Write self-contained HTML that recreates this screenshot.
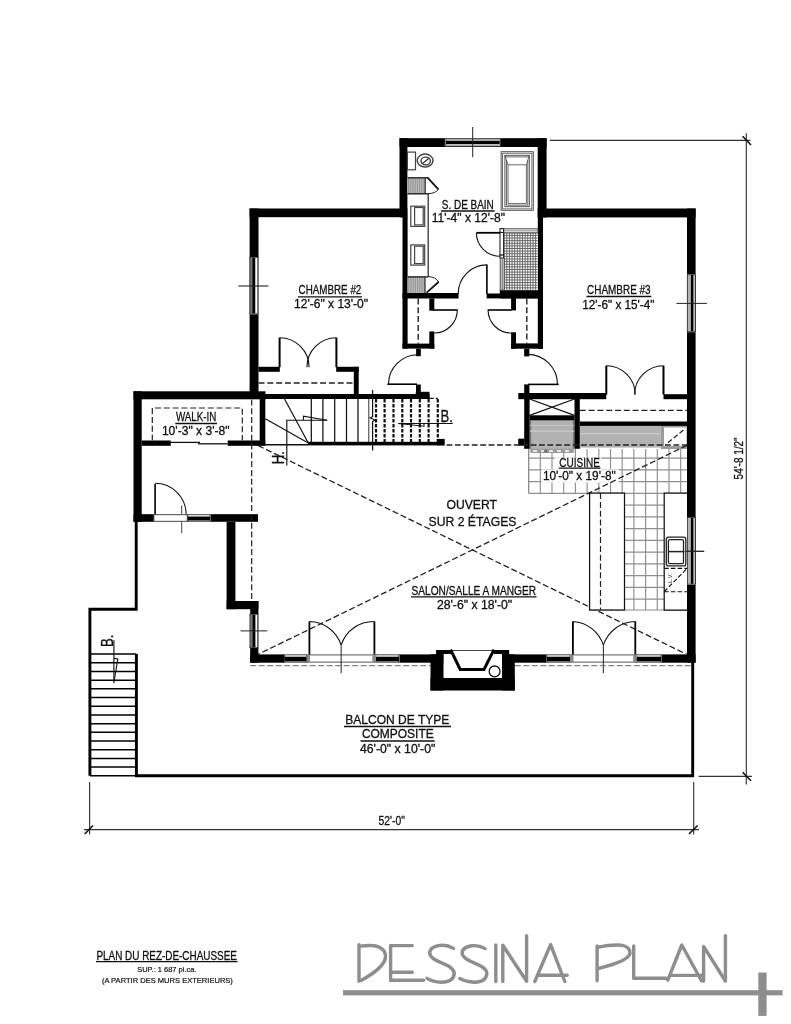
<!DOCTYPE html>
<html><head><meta charset="utf-8"><title>Plan du rez-de-chaussee</title>
<style>
html,body{margin:0;padding:0;background:#fff;}
body{width:791px;height:1024px;overflow:hidden;font-family:"Liberation Sans",sans-serif;}
svg{display:block;filter:grayscale(1) blur(0.4px);}
svg text{font-family:"Liberation Sans",sans-serif;}
</style></head><body>
<svg width="791" height="1024" viewBox="0 0 791 1024">
<rect x="0" y="0" width="791" height="1024" fill="#fff"/>
<line x1="528.60" y1="449.00" x2="528.60" y2="493.10" stroke="#8e8e8e" stroke-width="1.15" />
<line x1="540.30" y1="449.00" x2="540.30" y2="493.10" stroke="#8e8e8e" stroke-width="1.15" />
<line x1="552.00" y1="449.00" x2="552.00" y2="493.10" stroke="#8e8e8e" stroke-width="1.15" />
<line x1="563.70" y1="449.00" x2="563.70" y2="493.10" stroke="#8e8e8e" stroke-width="1.15" />
<line x1="575.40" y1="449.00" x2="575.40" y2="493.10" stroke="#8e8e8e" stroke-width="1.15" />
<line x1="587.10" y1="449.00" x2="587.10" y2="493.10" stroke="#8e8e8e" stroke-width="1.15" />
<line x1="598.80" y1="449.00" x2="598.80" y2="493.10" stroke="#8e8e8e" stroke-width="1.15" />
<line x1="610.50" y1="449.00" x2="610.50" y2="493.10" stroke="#8e8e8e" stroke-width="1.15" />
<line x1="622.20" y1="449.00" x2="622.20" y2="493.10" stroke="#8e8e8e" stroke-width="1.15" />
<line x1="633.90" y1="449.00" x2="633.90" y2="493.10" stroke="#8e8e8e" stroke-width="1.15" />
<line x1="645.60" y1="449.00" x2="645.60" y2="493.10" stroke="#8e8e8e" stroke-width="1.15" />
<line x1="657.30" y1="449.00" x2="657.30" y2="493.10" stroke="#8e8e8e" stroke-width="1.15" />
<line x1="669.00" y1="449.00" x2="669.00" y2="493.10" stroke="#8e8e8e" stroke-width="1.15" />
<line x1="680.70" y1="449.00" x2="680.70" y2="493.10" stroke="#8e8e8e" stroke-width="1.15" />
<line x1="528.60" y1="458.10" x2="687.00" y2="458.10" stroke="#8e8e8e" stroke-width="1.15" />
<line x1="528.60" y1="469.85" x2="687.00" y2="469.85" stroke="#8e8e8e" stroke-width="1.15" />
<line x1="528.60" y1="481.60" x2="687.00" y2="481.60" stroke="#8e8e8e" stroke-width="1.15" />
<line x1="528.60" y1="493.35" x2="687.00" y2="493.35" stroke="#8e8e8e" stroke-width="1.15" />
<line x1="528.60" y1="449.00" x2="528.60" y2="493.10" stroke="#8e8e8e" stroke-width="1.15" />
<line x1="633.90" y1="493.10" x2="633.90" y2="610.00" stroke="#8e8e8e" stroke-width="1.15" />
<line x1="645.60" y1="493.10" x2="645.60" y2="610.00" stroke="#8e8e8e" stroke-width="1.15" />
<line x1="657.30" y1="493.10" x2="657.30" y2="610.00" stroke="#8e8e8e" stroke-width="1.15" />
<line x1="624.50" y1="505.10" x2="664.20" y2="505.10" stroke="#8e8e8e" stroke-width="1.15" />
<line x1="624.50" y1="516.85" x2="664.20" y2="516.85" stroke="#8e8e8e" stroke-width="1.15" />
<line x1="624.50" y1="528.60" x2="664.20" y2="528.60" stroke="#8e8e8e" stroke-width="1.15" />
<line x1="624.50" y1="540.35" x2="664.20" y2="540.35" stroke="#8e8e8e" stroke-width="1.15" />
<line x1="624.50" y1="552.10" x2="664.20" y2="552.10" stroke="#8e8e8e" stroke-width="1.15" />
<line x1="624.50" y1="563.85" x2="664.20" y2="563.85" stroke="#8e8e8e" stroke-width="1.15" />
<line x1="624.50" y1="575.60" x2="664.20" y2="575.60" stroke="#8e8e8e" stroke-width="1.15" />
<line x1="624.50" y1="587.35" x2="664.20" y2="587.35" stroke="#8e8e8e" stroke-width="1.15" />
<line x1="624.50" y1="599.10" x2="664.20" y2="599.10" stroke="#8e8e8e" stroke-width="1.15" />
<line x1="589.60" y1="610.00" x2="687.00" y2="610.00" stroke="#8e8e8e" stroke-width="1.15" />
<rect x="554.60" y="457.40" width="46.60" height="13.10" fill="#fff" />
<rect x="541.40" y="469.40" width="77.20" height="13.20" fill="#fff" />
<rect x="529.60" y="420.40" width="44.90" height="32.20" fill="#b2b2b2" />
<rect x="529.60" y="420.40" width="1.60" height="28.40" fill="#777" />
<rect x="572.90" y="420.40" width="1.60" height="28.40" fill="#777" />
<line x1="529.60" y1="431.20" x2="574.50" y2="431.20" stroke="#d0d0d0" stroke-width="1" />
<line x1="529.60" y1="425.50" x2="574.50" y2="425.50" stroke="#c6c6c6" stroke-width="0.8" />
<rect x="579.80" y="425.70" width="81.00" height="21.90" fill="#b2b2b2" />
<line x1="579.80" y1="433.80" x2="660.80" y2="433.80" stroke="#d0d0d0" stroke-width="1" />
<rect x="660.80" y="425.90" width="26.50" height="23.10" fill="#9a9a9a" />
<rect x="664.00" y="427.50" width="22.50" height="18.50" fill="#fff" />
<rect x="531.20" y="448.80" width="41.80" height="4.20" fill="#9a9a9a" />
<line x1="533.00" y1="451.00" x2="571.00" y2="451.00" stroke="#fff" stroke-width="1.3" stroke-dasharray="4 4" />
<path d="M544,452.5 L545.5,449.8 L547,452.5" stroke="#333" stroke-width="0.8" fill="none" />
<rect x="399.50" y="138.20" width="45.50" height="8.80" fill="#000" />
<rect x="500.50" y="138.20" width="46.10" height="8.80" fill="#000" />
<rect x="399.50" y="138.20" width="7.90" height="79.20" fill="#000" />
<rect x="537.70" y="138.20" width="8.90" height="79.20" fill="#000" />
<rect x="402.50" y="217.00" width="5.10" height="131.60" fill="#000" />
<rect x="537.80" y="217.00" width="5.20" height="131.70" fill="#000" />
<rect x="249.60" y="208.50" width="157.80" height="8.70" fill="#000" />
<rect x="249.60" y="208.50" width="8.90" height="48.50" fill="#000" />
<rect x="249.60" y="314.20" width="8.90" height="84.80" fill="#000" />
<rect x="537.70" y="208.50" width="157.90" height="8.90" fill="#000" />
<rect x="687.00" y="208.50" width="8.60" height="65.70" fill="#000" />
<rect x="687.00" y="332.10" width="8.60" height="185.00" fill="#000" />
<rect x="687.00" y="584.60" width="8.60" height="78.10" fill="#000" />
<rect x="250.20" y="654.40" width="34.00" height="8.30" fill="#000" />
<rect x="399.30" y="654.40" width="147.10" height="8.30" fill="#000" />
<rect x="661.50" y="654.40" width="34.10" height="8.30" fill="#000" />
<rect x="250.20" y="601.00" width="8.20" height="13.00" fill="#000" />
<rect x="250.20" y="648.00" width="8.20" height="14.70" fill="#000" />
<rect x="226.60" y="601.00" width="31.80" height="8.20" fill="#000" />
<rect x="226.60" y="521.80" width="8.80" height="87.40" fill="#000" />
<rect x="133.50" y="514.20" width="20.40" height="7.60" fill="#000" />
<rect x="210.50" y="514.20" width="47.50" height="7.60" fill="#000" />
<rect x="133.50" y="391.30" width="8.20" height="130.50" fill="#000" />
<rect x="133.50" y="391.30" width="132.00" height="8.00" fill="#000" />
<rect x="259.70" y="398.50" width="5.60" height="47.10" fill="#000" />
<rect x="141.70" y="440.50" width="29.10" height="5.30" fill="#000" />
<rect x="227.70" y="440.50" width="37.60" height="5.30" fill="#000" />
<rect x="258.50" y="366.80" width="21.30" height="5.00" fill="#000" />
<rect x="336.20" y="366.80" width="22.50" height="5.00" fill="#000" />
<rect x="353.80" y="366.80" width="4.90" height="32.20" fill="#000" />
<rect x="258.50" y="394.00" width="171.00" height="5.00" fill="#000" />
<rect x="415.80" y="391.80" width="13.70" height="7.20" fill="#000" />
<rect x="416.00" y="384.50" width="4.80" height="14.50" fill="#000" />
<rect x="402.50" y="293.00" width="56.10" height="5.50" fill="#000" />
<rect x="429.30" y="298.50" width="5.00" height="12.20" fill="#000" />
<rect x="429.30" y="331.40" width="5.00" height="17.20" fill="#000" />
<rect x="402.50" y="343.60" width="31.80" height="5.00" fill="#000" />
<rect x="416.10" y="348.60" width="4.70" height="7.60" fill="#000" />
<rect x="486.60" y="293.50" width="56.40" height="4.90" fill="#000" />
<rect x="499.80" y="290.10" width="43.20" height="8.30" fill="#000" />
<rect x="511.10" y="298.00" width="4.90" height="12.40" fill="#000" />
<rect x="511.10" y="332.30" width="4.90" height="16.40" fill="#000" />
<rect x="511.10" y="343.40" width="31.90" height="5.30" fill="#000" />
<rect x="524.20" y="348.70" width="5.10" height="7.70" fill="#000" />
<rect x="524.20" y="384.40" width="5.20" height="14.60" fill="#000" />
<rect x="518.30" y="393.00" width="88.00" height="6.20" fill="#000" />
<rect x="663.50" y="394.20" width="24.20" height="5.00" fill="#000" />
<rect x="524.20" y="393.00" width="5.40" height="55.80" fill="#000" />
<rect x="518.20" y="438.70" width="6.20" height="7.00" fill="#000" />
<rect x="529.60" y="415.30" width="44.90" height="5.10" fill="#000" />
<rect x="574.50" y="399.00" width="5.30" height="49.80" fill="#000" />
<rect x="579.80" y="421.50" width="107.20" height="4.40" fill="#000" />
<line x1="529.60" y1="399.00" x2="574.50" y2="415.30" stroke="#111" stroke-width="1.3" />
<line x1="529.60" y1="415.30" x2="574.50" y2="399.00" stroke="#111" stroke-width="1.3" />
<rect x="249.40" y="257.00" width="9.10" height="57.20" fill="#fff" />
<rect x="250.00" y="257.80" width="3.85" height="55.60" fill="#777" />
<line x1="249.80" y1="257.00" x2="249.80" y2="314.20" stroke="#222" stroke-width="0.9" />
<line x1="258.00" y1="257.00" x2="258.00" y2="314.20" stroke="#222" stroke-width="1.2" />
<line x1="249.40" y1="257.40" x2="258.50" y2="257.40" stroke="#333" stroke-width="0.9" />
<line x1="249.40" y1="313.80" x2="258.50" y2="313.80" stroke="#333" stroke-width="0.9" />
<line x1="253.85" y1="257.80" x2="253.85" y2="313.40" stroke="#000" stroke-width="2.8" />
<line x1="238.40" y1="286.00" x2="268.50" y2="286.00" stroke="#222" stroke-width="1.1" />
<rect x="687.00" y="274.20" width="8.80" height="57.90" fill="#fff" />
<rect x="687.60" y="275.00" width="4.50" height="56.30" fill="#e4e4e4" />
<line x1="689.00" y1="275.00" x2="689.00" y2="331.30" stroke="#777" stroke-width="0.9" />
<line x1="687.40" y1="274.20" x2="687.40" y2="332.10" stroke="#222" stroke-width="0.9" />
<line x1="695.30" y1="274.20" x2="695.30" y2="332.10" stroke="#222" stroke-width="1.2" />
<line x1="687.00" y1="274.60" x2="695.80" y2="274.60" stroke="#333" stroke-width="0.9" />
<line x1="687.00" y1="331.70" x2="695.80" y2="331.70" stroke="#333" stroke-width="0.9" />
<line x1="692.10" y1="275.00" x2="692.10" y2="331.30" stroke="#000" stroke-width="2.8" />
<line x1="676.40" y1="303.40" x2="706.90" y2="303.40" stroke="#222" stroke-width="1" />
<rect x="687.00" y="517.10" width="8.80" height="67.50" fill="#fff" />
<rect x="687.60" y="517.90" width="4.50" height="65.90" fill="#e4e4e4" />
<line x1="689.00" y1="517.90" x2="689.00" y2="583.80" stroke="#777" stroke-width="0.9" />
<line x1="687.40" y1="517.10" x2="687.40" y2="584.60" stroke="#222" stroke-width="0.9" />
<line x1="695.30" y1="517.10" x2="695.30" y2="584.60" stroke="#222" stroke-width="1.2" />
<line x1="687.00" y1="517.50" x2="695.80" y2="517.50" stroke="#333" stroke-width="0.9" />
<line x1="687.00" y1="584.20" x2="695.80" y2="584.20" stroke="#333" stroke-width="0.9" />
<line x1="692.10" y1="517.90" x2="692.10" y2="583.80" stroke="#000" stroke-width="2.8" />
<line x1="678.00" y1="551.30" x2="704.20" y2="551.30" stroke="#222" stroke-width="1" />
<rect x="249.60" y="614.00" width="8.80" height="34.00" fill="#fff" />
<rect x="250.20" y="614.80" width="3.80" height="32.40" fill="#777" />
<line x1="250.00" y1="614.00" x2="250.00" y2="648.00" stroke="#222" stroke-width="0.9" />
<line x1="257.90" y1="614.00" x2="257.90" y2="648.00" stroke="#222" stroke-width="1.2" />
<line x1="249.60" y1="614.40" x2="258.40" y2="614.40" stroke="#333" stroke-width="0.9" />
<line x1="249.60" y1="647.60" x2="258.40" y2="647.60" stroke="#333" stroke-width="0.9" />
<line x1="254.00" y1="614.80" x2="254.00" y2="647.20" stroke="#000" stroke-width="2.8" />
<line x1="240.50" y1="630.90" x2="267.30" y2="630.90" stroke="#222" stroke-width="1" />
<rect x="445.00" y="138.20" width="55.50" height="8.80" fill="#fff" />
<rect x="445.00" y="138.70" width="55.50" height="7.80" fill="#ddd" stroke="#333" stroke-width="1"/>
<rect x="446.20" y="140.10" width="53.10" height="5.00" fill="none" stroke="#666" stroke-width="0.7"/>
<line x1="446.00" y1="142.60" x2="499.50" y2="142.60" stroke="#000" stroke-width="3" />
<line x1="472.70" y1="127.00" x2="472.70" y2="157.20" stroke="#222" stroke-width="1" />
<rect x="284.20" y="654.40" width="22.80" height="8.30" fill="#fff" />
<line x1="284.20" y1="654.80" x2="307.00" y2="654.80" stroke="#666" stroke-width="1.2" />
<line x1="284.20" y1="662.20" x2="307.00" y2="662.20" stroke="#666" stroke-width="1.2" />
<line x1="284.60" y1="654.40" x2="284.60" y2="662.70" stroke="#444" stroke-width="1" />
<line x1="306.60" y1="654.40" x2="306.60" y2="662.70" stroke="#444" stroke-width="1" />
<rect x="284.60" y="656.70" width="22.00" height="4.70" fill="#000" />
<rect x="375.30" y="654.40" width="24.00" height="8.30" fill="#fff" />
<line x1="375.30" y1="654.80" x2="399.30" y2="654.80" stroke="#666" stroke-width="1.2" />
<line x1="375.30" y1="662.20" x2="399.30" y2="662.20" stroke="#666" stroke-width="1.2" />
<line x1="375.70" y1="654.40" x2="375.70" y2="662.70" stroke="#444" stroke-width="1" />
<line x1="398.90" y1="654.40" x2="398.90" y2="662.70" stroke="#444" stroke-width="1" />
<rect x="375.70" y="656.70" width="23.20" height="4.70" fill="#000" />
<rect x="546.40" y="654.40" width="24.10" height="8.30" fill="#fff" />
<line x1="546.40" y1="654.80" x2="570.50" y2="654.80" stroke="#666" stroke-width="1.2" />
<line x1="546.40" y1="662.20" x2="570.50" y2="662.20" stroke="#666" stroke-width="1.2" />
<line x1="546.80" y1="654.40" x2="546.80" y2="662.70" stroke="#444" stroke-width="1" />
<line x1="570.10" y1="654.40" x2="570.10" y2="662.70" stroke="#444" stroke-width="1" />
<rect x="546.80" y="656.70" width="23.30" height="4.70" fill="#000" />
<rect x="636.20" y="654.40" width="25.30" height="8.30" fill="#fff" />
<line x1="636.20" y1="654.80" x2="661.50" y2="654.80" stroke="#666" stroke-width="1.2" />
<line x1="636.20" y1="662.20" x2="661.50" y2="662.20" stroke="#666" stroke-width="1.2" />
<line x1="636.60" y1="654.40" x2="636.60" y2="662.70" stroke="#444" stroke-width="1" />
<line x1="661.10" y1="654.40" x2="661.10" y2="662.70" stroke="#444" stroke-width="1" />
<rect x="636.60" y="656.70" width="24.50" height="4.70" fill="#000" />
<rect x="187.20" y="514.20" width="23.30" height="7.60" fill="#fff" />
<line x1="187.20" y1="514.60" x2="210.50" y2="514.60" stroke="#666" stroke-width="1.2" />
<line x1="187.20" y1="521.30" x2="210.50" y2="521.30" stroke="#666" stroke-width="1.2" />
<line x1="187.60" y1="514.20" x2="187.60" y2="521.80" stroke="#444" stroke-width="1" />
<line x1="210.10" y1="514.20" x2="210.10" y2="521.80" stroke="#444" stroke-width="1" />
<rect x="187.60" y="516.50" width="22.50" height="4.00" fill="#000" />
<line x1="181.70" y1="505.40" x2="181.70" y2="533.20" stroke="#444" stroke-width="1" />
<rect x="307.00" y="654.40" width="68.30" height="8.30" fill="#fff" />
<line x1="307.00" y1="654.80" x2="375.30" y2="654.80" stroke="#777" stroke-width="1.3" />
<line x1="307.00" y1="662.20" x2="375.30" y2="662.20" stroke="#777" stroke-width="1.3" />
<rect x="306.60" y="654.40" width="3.40" height="8.30" fill="#8a8a8a" />
<rect x="372.30" y="654.40" width="3.40" height="8.30" fill="#8a8a8a" />
<line x1="309.40" y1="621.50" x2="309.40" y2="654.40" stroke="#000" stroke-width="1.8" />
<line x1="374.40" y1="621.50" x2="374.40" y2="654.40" stroke="#000" stroke-width="1.8" />
<path d="M309.40,621.50 A34,34 0 0 1 341.15,645.20" stroke="#111" stroke-width="1.1" fill="none" />
<path d="M374.40,621.50 A34,34 0 0 0 341.15,645.20" stroke="#111" stroke-width="1.1" fill="none" />
<line x1="341.15" y1="645.20" x2="341.15" y2="673.20" stroke="#222" stroke-width="1" />
<rect x="570.50" y="654.40" width="65.70" height="8.30" fill="#fff" />
<line x1="570.50" y1="654.80" x2="636.20" y2="654.80" stroke="#777" stroke-width="1.3" />
<line x1="570.50" y1="662.20" x2="636.20" y2="662.20" stroke="#777" stroke-width="1.3" />
<rect x="570.10" y="654.40" width="3.40" height="8.30" fill="#8a8a8a" />
<rect x="633.20" y="654.40" width="3.40" height="8.30" fill="#8a8a8a" />
<line x1="572.90" y1="621.50" x2="572.90" y2="654.40" stroke="#000" stroke-width="1.8" />
<line x1="635.30" y1="621.50" x2="635.30" y2="654.40" stroke="#000" stroke-width="1.8" />
<path d="M572.90,621.50 A34,34 0 0 1 603.35,645.20" stroke="#111" stroke-width="1.1" fill="none" />
<path d="M635.30,621.50 A34,34 0 0 0 603.35,645.20" stroke="#111" stroke-width="1.1" fill="none" />
<line x1="603.35" y1="645.20" x2="603.35" y2="673.20" stroke="#222" stroke-width="1" />
<line x1="279.60" y1="337.70" x2="279.60" y2="367.20" stroke="#000" stroke-width="2" />
<line x1="336.40" y1="337.70" x2="336.40" y2="367.20" stroke="#000" stroke-width="2" />
<path d="M279.60,337.70 A29.50,29.50 0 0 1 309.10,367.20" stroke="#111" stroke-width="1.1" fill="none" />
<path d="M336.40,337.70 A29.50,29.50 0 0 0 306.90,367.20" stroke="#111" stroke-width="1.1" fill="none" />
<line x1="606.30" y1="365.70" x2="606.30" y2="394.60" stroke="#000" stroke-width="2" />
<line x1="663.50" y1="365.70" x2="663.50" y2="394.60" stroke="#000" stroke-width="2" />
<path d="M606.30,365.70 A28.90,28.90 0 0 1 635.20,394.60" stroke="#111" stroke-width="1.1" fill="none" />
<path d="M663.50,365.70 A28.90,28.90 0 0 0 634.60,394.60" stroke="#111" stroke-width="1.1" fill="none" />
<line x1="387.30" y1="384.20" x2="417.00" y2="384.20" stroke="#000" stroke-width="1.6" />
<path d="M388.50,384.20 A29.50,29.50 0 0 1 418.00,354.70" stroke="#111" stroke-width="1.1" fill="none" />
<line x1="528.00" y1="384.40" x2="558.70" y2="384.40" stroke="#000" stroke-width="1.6" />
<path d="M557.50,384.40 A30.00,30.00 0 0 0 527.50,354.40" stroke="#111" stroke-width="1.1" fill="none" />
<line x1="433.00" y1="310.00" x2="457.70" y2="310.00" stroke="#000" stroke-width="1.6" />
<path d="M457.30,310.00 A23.00,23.00 0 0 1 434.30,333.00" stroke="#111" stroke-width="1.1" fill="none" />
<line x1="487.70" y1="310.00" x2="512.00" y2="310.00" stroke="#000" stroke-width="1.6" />
<path d="M488.10,310.00 A23.00,23.00 0 0 0 511.10,333.00" stroke="#111" stroke-width="1.1" fill="none" />
<line x1="486.90" y1="264.40" x2="486.90" y2="294.00" stroke="#000" stroke-width="1.6" />
<path d="M486.90,264.90 A28.70,28.70 0 0 0 458.20,293.60" stroke="#111" stroke-width="1.1" fill="none" />
<rect x="153.90" y="514.20" width="33.30" height="7.60" fill="#fff" />
<rect x="153.9" y="514.7" width="33.3" height="6.6" fill="none" stroke="#333" stroke-width="0.9"/>
<line x1="155.10" y1="483.90" x2="155.10" y2="514.20" stroke="#000" stroke-width="1.6" />
<path d="M155.10,483.20 A31.00,31.00 0 0 1 186.10,514.20" stroke="#111" stroke-width="1.1" fill="none" />
<line x1="170.80" y1="442.40" x2="200.00" y2="442.40" stroke="#111" stroke-width="1.3" />
<line x1="198.00" y1="443.80" x2="227.70" y2="443.80" stroke="#111" stroke-width="1.3" />
<line x1="258.50" y1="383.00" x2="353.80" y2="383.00" stroke="#222" stroke-width="1.3" stroke-dasharray="6 2.8" />
<line x1="579.80" y1="410.30" x2="687.00" y2="410.30" stroke="#222" stroke-width="1.3" stroke-dasharray="6 2.8" />
<line x1="418.20" y1="298.50" x2="418.20" y2="343.60" stroke="#222" stroke-width="1.4" stroke-dasharray="6 2.8" />
<line x1="526.80" y1="298.40" x2="526.80" y2="343.40" stroke="#222" stroke-width="1.4" stroke-dasharray="6 2.8" />
<path d="M152.3,440.5 L152.3,408 L242.3,408 L242.3,440.5" stroke="#222" stroke-width="1.2" fill="none" stroke-dasharray="6 2.8" />
<line x1="251.70" y1="399.50" x2="251.70" y2="601.00" stroke="#222" stroke-width="1.2" stroke-dasharray="6 2.8" />
<line x1="446.60" y1="445.00" x2="687.00" y2="445.00" stroke="#222" stroke-width="1.6" stroke-dasharray="5.8 2.6" />
<line x1="258.20" y1="445.60" x2="687.00" y2="654.50" stroke="#222" stroke-width="1.3" stroke-dasharray="6 2.8" />
<line x1="687.00" y1="445.30" x2="258.40" y2="654.20" stroke="#222" stroke-width="1.3" stroke-dasharray="6 2.8" />
<line x1="683.40" y1="430.00" x2="665.20" y2="445.00" stroke="#222" stroke-width="1.2" stroke-dasharray="5 2.5" />
<line x1="600.50" y1="493.10" x2="600.50" y2="610.00" stroke="#222" stroke-width="1.2" stroke-dasharray="6 2.8" />
<line x1="250.20" y1="665.70" x2="430.50" y2="665.70" stroke="#666" stroke-width="1" stroke-dasharray="6 2.5" />
<line x1="514.80" y1="665.70" x2="691.00" y2="665.70" stroke="#666" stroke-width="1" stroke-dasharray="6 2.5" />
<rect x="589.6" y="493.1" width="34.9" height="116.9" fill="#fff" stroke="#111" stroke-width="1.25"/>
<line x1="600.50" y1="493.10" x2="600.50" y2="610.00" stroke="#222" stroke-width="1.2" stroke-dasharray="6 2.8" />
<rect x="664.20" y="493.10" width="22.80" height="116.90" fill="#fff" />
<path d="M687,493.1 L664.2,493.1 L664.2,610 L687,610" stroke="#111" stroke-width="1.25" fill="none" />
<rect x="666.3" y="537.2" width="19.5" height="28.7" rx="2.2" fill="#fff" stroke="#222" stroke-width="1.3"/>
<rect x="668.4" y="539.6" width="15.1" height="24" rx="1.3" fill="#fff" stroke="#222" stroke-width="1.3"/>
<line x1="668.40" y1="551.60" x2="683.50" y2="551.60" stroke="#222" stroke-width="1.5" />
<path d="M664.2,568.4 L687,568.4 M664.2,591.7 L687,591.7 M664.2,591.7 L687,568.4" stroke="#111" stroke-width="1.15" fill="none" stroke-dasharray="4.5 2.2" />
<text transform="translate(672.2,582.9) rotate(-90)" font-size="6.2" fill="#222" textLength="9.3" lengthAdjust="spacingAndGlyphs">L.V.</text>
<line x1="684.50" y1="551.30" x2="704.20" y2="551.30" stroke="#222" stroke-width="1" />
<rect x="407.4" y="152.1" width="8.1" height="17.7" fill="#fff" stroke="#444" stroke-width="1.2"/>
<ellipse cx="425.1" cy="160.6" rx="7.9" ry="6.5" fill="#fff" stroke="#444" stroke-width="1.5"/>
<ellipse cx="425.7" cy="160.9" rx="4.7" ry="3.8" fill="#fff" stroke="#444" stroke-width="1.4"/>
<line x1="422.30" y1="163.80" x2="429.20" y2="158.00" stroke="#333" stroke-width="1.3" />
<rect x="407.40" y="177.80" width="18.20" height="16.00" fill="#bdbdbd" />
<line x1="408.60" y1="177.80" x2="408.60" y2="193.80" stroke="#777" stroke-width="0.6" />
<line x1="410.80" y1="177.80" x2="410.80" y2="193.80" stroke="#777" stroke-width="0.6" />
<line x1="413.00" y1="177.80" x2="413.00" y2="193.80" stroke="#777" stroke-width="0.6" />
<line x1="415.20" y1="177.80" x2="415.20" y2="193.80" stroke="#777" stroke-width="0.6" />
<line x1="417.40" y1="177.80" x2="417.40" y2="193.80" stroke="#777" stroke-width="0.6" />
<line x1="419.60" y1="177.80" x2="419.60" y2="193.80" stroke="#777" stroke-width="0.6" />
<line x1="421.80" y1="177.80" x2="421.80" y2="193.80" stroke="#777" stroke-width="0.6" />
<line x1="424.00" y1="177.80" x2="424.00" y2="193.80" stroke="#777" stroke-width="0.6" />
<rect x="407.60" y="276.60" width="17.80" height="16.30" fill="#bdbdbd" />
<line x1="408.80" y1="276.60" x2="408.80" y2="292.90" stroke="#777" stroke-width="0.6" />
<line x1="411.00" y1="276.60" x2="411.00" y2="292.90" stroke="#777" stroke-width="0.6" />
<line x1="413.20" y1="276.60" x2="413.20" y2="292.90" stroke="#777" stroke-width="0.6" />
<line x1="415.40" y1="276.60" x2="415.40" y2="292.90" stroke="#777" stroke-width="0.6" />
<line x1="417.60" y1="276.60" x2="417.60" y2="292.90" stroke="#777" stroke-width="0.6" />
<line x1="419.80" y1="276.60" x2="419.80" y2="292.90" stroke="#777" stroke-width="0.6" />
<line x1="422.00" y1="276.60" x2="422.00" y2="292.90" stroke="#777" stroke-width="0.6" />
<line x1="424.20" y1="276.60" x2="424.20" y2="292.90" stroke="#777" stroke-width="0.6" />
<line x1="407.40" y1="177.80" x2="427.60" y2="177.80" stroke="#222" stroke-width="1.4" />
<line x1="425.20" y1="177.80" x2="425.20" y2="193.80" stroke="#333" stroke-width="1.2" />
<path d="M427.3,177.4 L438.4,189.3" stroke="#111" stroke-width="1.8" fill="none" />
<path d="M438.4,189.3 Q436,193.4 428,193.7" stroke="#222" stroke-width="1" fill="none" />
<line x1="428.20" y1="194.00" x2="428.20" y2="277.00" stroke="#222" stroke-width="1.2" />
<line x1="407.40" y1="193.80" x2="428.10" y2="193.80" stroke="#222" stroke-width="1.4" />
<line x1="407.60" y1="276.90" x2="428.30" y2="276.90" stroke="#222" stroke-width="1.4" />
<path d="M426.6,292.6 L438.6,282" stroke="#111" stroke-width="1.8" fill="none" />
<path d="M438.6,282 Q436,277 428.2,276.6" stroke="#222" stroke-width="1" fill="none" />
<line x1="425.00" y1="276.90" x2="425.00" y2="292.90" stroke="#333" stroke-width="1.2" />
<rect x="410.8" y="206.2" width="13.9" height="20.2" fill="#fff" stroke="#444" stroke-width="1.2"/>
<rect x="414.6" y="207.5" width="8.6" height="17.4" fill="#fff" stroke="#444" stroke-width="1.2"/>
<rect x="410.8" y="244.9" width="13.9" height="20.2" fill="#fff" stroke="#444" stroke-width="1.2"/>
<rect x="414.6" y="246.20000000000002" width="8.6" height="17.4" fill="#fff" stroke="#444" stroke-width="1.2"/>
<rect x="501.1" y="151.7" width="32.20" height="58.60" fill="#fff" stroke="#444" stroke-width="0.9"/>
<rect x="502.6" y="153.2" width="29.30" height="55.70" fill="#fff" stroke="#444" stroke-width="0.8"/>
<rect x="504.9" y="155.3" width="24.40" height="51.40" fill="#fff" stroke="#444" stroke-width="0.9"/>
<line x1="505.00" y1="156.90" x2="529.30" y2="156.90" stroke="#444" stroke-width="0.8" />
<path d="M504.9,155.3 L508,164.8 L526.4,164.8 L529.3,155.3 M508,164.8 L508,203.6 L526.4,203.6 L526.4,164.8 M506.5,160 L506.5,205.2 L527.8,205.2 L527.8,160" stroke="#444" stroke-width="0.8" fill="none" />
<rect x="504.20" y="232.80" width="33.70" height="57.30" fill="#fff" />
<line x1="504.20" y1="232.80" x2="504.20" y2="290.10" stroke="#555" stroke-width="0.85" />
<line x1="506.82" y1="232.80" x2="506.82" y2="290.10" stroke="#555" stroke-width="0.85" />
<line x1="509.44" y1="232.80" x2="509.44" y2="290.10" stroke="#555" stroke-width="0.85" />
<line x1="512.06" y1="232.80" x2="512.06" y2="290.10" stroke="#555" stroke-width="0.85" />
<line x1="514.68" y1="232.80" x2="514.68" y2="290.10" stroke="#555" stroke-width="0.85" />
<line x1="517.30" y1="232.80" x2="517.30" y2="290.10" stroke="#555" stroke-width="0.85" />
<line x1="519.92" y1="232.80" x2="519.92" y2="290.10" stroke="#555" stroke-width="0.85" />
<line x1="522.54" y1="232.80" x2="522.54" y2="290.10" stroke="#555" stroke-width="0.85" />
<line x1="525.16" y1="232.80" x2="525.16" y2="290.10" stroke="#555" stroke-width="0.85" />
<line x1="527.78" y1="232.80" x2="527.78" y2="290.10" stroke="#555" stroke-width="0.85" />
<line x1="530.40" y1="232.80" x2="530.40" y2="290.10" stroke="#555" stroke-width="0.85" />
<line x1="533.02" y1="232.80" x2="533.02" y2="290.10" stroke="#555" stroke-width="0.85" />
<line x1="535.64" y1="232.80" x2="535.64" y2="290.10" stroke="#555" stroke-width="0.85" />
<line x1="504.20" y1="232.80" x2="537.90" y2="232.80" stroke="#555" stroke-width="0.85" />
<line x1="504.20" y1="235.42" x2="537.90" y2="235.42" stroke="#555" stroke-width="0.85" />
<line x1="504.20" y1="238.04" x2="537.90" y2="238.04" stroke="#555" stroke-width="0.85" />
<line x1="504.20" y1="240.66" x2="537.90" y2="240.66" stroke="#555" stroke-width="0.85" />
<line x1="504.20" y1="243.28" x2="537.90" y2="243.28" stroke="#555" stroke-width="0.85" />
<line x1="504.20" y1="245.90" x2="537.90" y2="245.90" stroke="#555" stroke-width="0.85" />
<line x1="504.20" y1="248.52" x2="537.90" y2="248.52" stroke="#555" stroke-width="0.85" />
<line x1="504.20" y1="251.14" x2="537.90" y2="251.14" stroke="#555" stroke-width="0.85" />
<line x1="504.20" y1="253.76" x2="537.90" y2="253.76" stroke="#555" stroke-width="0.85" />
<line x1="504.20" y1="256.38" x2="537.90" y2="256.38" stroke="#555" stroke-width="0.85" />
<line x1="504.20" y1="259.00" x2="537.90" y2="259.00" stroke="#555" stroke-width="0.85" />
<line x1="504.20" y1="261.62" x2="537.90" y2="261.62" stroke="#555" stroke-width="0.85" />
<line x1="504.20" y1="264.24" x2="537.90" y2="264.24" stroke="#555" stroke-width="0.85" />
<line x1="504.20" y1="266.86" x2="537.90" y2="266.86" stroke="#555" stroke-width="0.85" />
<line x1="504.20" y1="269.48" x2="537.90" y2="269.48" stroke="#555" stroke-width="0.85" />
<line x1="504.20" y1="272.10" x2="537.90" y2="272.10" stroke="#555" stroke-width="0.85" />
<line x1="504.20" y1="274.72" x2="537.90" y2="274.72" stroke="#555" stroke-width="0.85" />
<line x1="504.20" y1="277.34" x2="537.90" y2="277.34" stroke="#555" stroke-width="0.85" />
<line x1="504.20" y1="279.96" x2="537.90" y2="279.96" stroke="#555" stroke-width="0.85" />
<line x1="504.20" y1="282.58" x2="537.90" y2="282.58" stroke="#555" stroke-width="0.85" />
<line x1="504.20" y1="285.20" x2="537.90" y2="285.20" stroke="#555" stroke-width="0.85" />
<line x1="504.20" y1="287.82" x2="537.90" y2="287.82" stroke="#555" stroke-width="0.85" />
<rect x="503.5" y="228.8" width="34.4" height="4" fill="#fff" stroke="#444" stroke-width="1"/>
<line x1="503.50" y1="230.80" x2="537.90" y2="230.80" stroke="#666" stroke-width="0.8" />
<rect x="500" y="228.6" width="3.6" height="3.9" fill="#fff" stroke="#222" stroke-width="1.1"/>
<rect x="500" y="232.5" width="3.6" height="22.6" fill="#fff" stroke="#222" stroke-width="1.1"/>
<rect x="500" y="255.1" width="3.6" height="3" fill="#fff" stroke="#222" stroke-width="1.1"/>
<rect x="500.2" y="258.1" width="4" height="32" fill="#ddd" stroke="#444" stroke-width="0.9"/>
<line x1="502.20" y1="258.10" x2="502.20" y2="290.10" stroke="#555" stroke-width="0.8" />
<line x1="476.40" y1="232.80" x2="500.00" y2="232.80" stroke="#000" stroke-width="1.8" />
<path d="M476.40,232.80 A23.40,23.40 0 0 0 499.80,256.20" stroke="#111" stroke-width="1.1" fill="none" />
<line x1="311.30" y1="399.00" x2="311.30" y2="442.00" stroke="#111" stroke-width="1.25" />
<line x1="322.90" y1="399.00" x2="322.90" y2="442.00" stroke="#111" stroke-width="1.25" />
<line x1="334.70" y1="399.00" x2="334.70" y2="442.00" stroke="#111" stroke-width="1.25" />
<line x1="346.50" y1="399.00" x2="346.50" y2="442.00" stroke="#111" stroke-width="1.25" />
<line x1="358.00" y1="399.00" x2="358.00" y2="442.00" stroke="#111" stroke-width="1.25" />
<line x1="368.80" y1="399.00" x2="368.80" y2="442.00" stroke="#333" stroke-width="1" />
<line x1="308.30" y1="443.00" x2="284.40" y2="398.80" stroke="#111" stroke-width="1.2" />
<line x1="308.30" y1="443.00" x2="265.30" y2="418.70" stroke="#111" stroke-width="1.2" />
<line x1="265.30" y1="444.80" x2="308.30" y2="444.80" stroke="#111" stroke-width="1.4" />
<rect x="308.00" y="441.80" width="129.50" height="3.60" fill="#000" />
<path d="M372.6,389.9 L372.6,416.5 L370.2,418 L375,420 L372.6,421.5 L372.6,450.5" stroke="#111" stroke-width="1.2" fill="none" />
<line x1="376.00" y1="399.00" x2="376.00" y2="442.00" stroke="#111" stroke-width="2.2" stroke-dasharray="3.5 1.5" />
<line x1="384.60" y1="399.00" x2="384.60" y2="442.00" stroke="#111" stroke-width="2.2" stroke-dasharray="3.5 1.5" />
<line x1="393.50" y1="399.00" x2="393.50" y2="442.00" stroke="#111" stroke-width="2.2" stroke-dasharray="3.5 1.5" />
<line x1="402.30" y1="399.00" x2="402.30" y2="442.00" stroke="#111" stroke-width="2.2" stroke-dasharray="3.5 1.5" />
<line x1="411.00" y1="399.00" x2="411.00" y2="442.00" stroke="#111" stroke-width="2.2" stroke-dasharray="3.5 1.5" />
<line x1="419.80" y1="399.00" x2="419.80" y2="442.00" stroke="#111" stroke-width="2.2" stroke-dasharray="3.5 1.5" />
<line x1="428.60" y1="399.00" x2="428.60" y2="442.00" stroke="#111" stroke-width="2.2" stroke-dasharray="3.5 1.5" />
<line x1="437.80" y1="399.00" x2="437.80" y2="442.00" stroke="#111" stroke-width="2.2" stroke-dasharray="3.5 1.5" />
<line x1="429.50" y1="398.40" x2="437.80" y2="398.40" stroke="#111" stroke-width="1.4" stroke-dasharray="4.2 2" />
<rect x="437.00" y="438.90" width="7.70" height="6.70" fill="#000" />
<path d="M286.8,465.5 L286.8,420.2 L327.2,420.2" stroke="#111" stroke-width="1.15" fill="none" />
<path d="M303.4,420.2 L303.4,416.1 L327.2,420.2" stroke="#111" stroke-width="1.1" fill="none" />
<text transform="translate(284.3,464.2) rotate(-90) scale(0.82,1)" font-size="16" fill="#111" stroke="#111" stroke-width="0.3">H.</text>
<line x1="398.40" y1="423.50" x2="452.80" y2="423.50" stroke="#111" stroke-width="1.15" />
<path d="M398.4,423.5 L424,426.2 L424,423.5" stroke="#111" stroke-width="1.1" fill="none" />
<text transform="translate(440.5,422.4) scale(0.82,1)" font-size="16" fill="#111" stroke="#111" stroke-width="0.3">B.</text>
<path d="M136.2,521.8 L136.2,609.2 L89.9,609.2 L89.9,775.8" stroke="#000" stroke-width="2.9" fill="none" />
<path d="M136.4,654.1 L136.4,775.8 L692.7,775.8 L692.7,662.7" stroke="#000" stroke-width="2.9" fill="none" />
<line x1="89.90" y1="654.10" x2="136.40" y2="654.10" stroke="#000" stroke-width="1.5" />
<line x1="89.90" y1="662.79" x2="136.40" y2="662.79" stroke="#000" stroke-width="1.5" />
<line x1="89.90" y1="671.49" x2="136.40" y2="671.49" stroke="#000" stroke-width="1.5" />
<line x1="89.90" y1="680.18" x2="136.40" y2="680.18" stroke="#000" stroke-width="1.5" />
<line x1="89.90" y1="688.87" x2="136.40" y2="688.87" stroke="#000" stroke-width="1.5" />
<line x1="89.90" y1="697.56" x2="136.40" y2="697.56" stroke="#000" stroke-width="1.5" />
<line x1="89.90" y1="706.26" x2="136.40" y2="706.26" stroke="#000" stroke-width="1.5" />
<line x1="89.90" y1="714.95" x2="136.40" y2="714.95" stroke="#000" stroke-width="1.5" />
<line x1="89.90" y1="723.64" x2="136.40" y2="723.64" stroke="#000" stroke-width="1.5" />
<line x1="89.90" y1="732.34" x2="136.40" y2="732.34" stroke="#000" stroke-width="1.5" />
<line x1="89.90" y1="741.03" x2="136.40" y2="741.03" stroke="#000" stroke-width="1.5" />
<line x1="89.90" y1="749.72" x2="136.40" y2="749.72" stroke="#000" stroke-width="1.5" />
<line x1="89.90" y1="758.41" x2="136.40" y2="758.41" stroke="#000" stroke-width="1.5" />
<line x1="89.90" y1="767.11" x2="136.40" y2="767.11" stroke="#000" stroke-width="1.5" />
<line x1="89.90" y1="775.80" x2="136.40" y2="775.80" stroke="#000" stroke-width="1.5" />
<line x1="113.90" y1="640.20" x2="113.90" y2="683.30" stroke="#111" stroke-width="1.15" />
<path d="M113.9,658.4 L117.8,659 L114.1,681.5" stroke="#111" stroke-width="1.1" fill="none" />
<text transform="translate(113,646.9) rotate(-90) scale(0.82,1)" font-size="16" fill="#111" stroke="#111" stroke-width="0.3">B.</text>
<path d="M436.3,650 L452.2,650 L452.2,655 L436.3,655 Z M493.8,650 L509.1,650 L509.1,655 L493.8,655 Z" stroke="none" stroke-width="0" fill="#000" />
<rect x="430.50" y="654.40" width="13.20" height="36.10" fill="#000" />
<rect x="502.00" y="654.40" width="12.80" height="36.10" fill="#000" />
<rect x="430.50" y="678.00" width="84.30" height="12.50" fill="#000" />
<rect x="436.30" y="650.00" width="7.40" height="12.00" fill="#000" />
<rect x="502.00" y="650.00" width="7.10" height="12.00" fill="#000" />
<rect x="443.70" y="654.00" width="58.30" height="24.00" fill="#fff" />
<rect x="452.20" y="649.50" width="41.60" height="5.50" fill="#fff" />
<line x1="452.20" y1="650.50" x2="493.80" y2="650.50" stroke="#333" stroke-width="0.9" />
<path d="M450.6,649.6 L460.2,669.4 L484,669.4 L494,649.6" stroke="#000" stroke-width="3" fill="none" />
<circle cx="494.6" cy="671.4" r="5.4" fill="#fff" stroke="#111" stroke-width="1.3"/>
<line x1="549.80" y1="140.30" x2="750.30" y2="140.30" stroke="#333" stroke-width="1.15" />
<line x1="746.30" y1="133.20" x2="746.30" y2="784.60" stroke="#333" stroke-width="1.15" />
<line x1="742.60" y1="136.30" x2="751.00" y2="145.00" stroke="#111" stroke-width="1.6" />
<line x1="698.70" y1="776.40" x2="751.90" y2="776.40" stroke="#333" stroke-width="1.15" />
<line x1="742.60" y1="772.20" x2="751.00" y2="780.80" stroke="#111" stroke-width="1.6" />
<line x1="89.60" y1="782.00" x2="89.60" y2="834.50" stroke="#333" stroke-width="1.15" />
<line x1="693.70" y1="782.00" x2="693.70" y2="834.50" stroke="#333" stroke-width="1.15" />
<line x1="84.00" y1="829.60" x2="699.00" y2="829.60" stroke="#333" stroke-width="1.15" />
<line x1="84.70" y1="834.00" x2="93.00" y2="825.50" stroke="#111" stroke-width="1.6" />
<line x1="689.00" y1="834.00" x2="697.60" y2="825.50" stroke="#111" stroke-width="1.6" />
<text x="298.60" y="294.30" font-size="12" fill="#111" stroke="#111" stroke-width="0.3" textLength="62.70" lengthAdjust="spacingAndGlyphs">CHAMBRE #2</text>
<line x1="298.00" y1="296.90" x2="362.00" y2="296.90" stroke="#111" stroke-width="1.3" />
<text x="294.00" y="307.70" font-size="12" fill="#111" stroke="#111" stroke-width="0.3" textLength="74.10" lengthAdjust="spacingAndGlyphs">12'-6" x 13'-0"</text>
<text x="441.80" y="209.00" font-size="12" fill="#111" stroke="#111" stroke-width="0.3" textLength="52.00" lengthAdjust="spacingAndGlyphs">S. DE BAIN</text>
<line x1="441.00" y1="211.00" x2="494.50" y2="211.00" stroke="#111" stroke-width="1.3" />
<text x="431.80" y="221.80" font-size="12" fill="#111" stroke="#111" stroke-width="0.3" textLength="73.20" lengthAdjust="spacingAndGlyphs">11'-4" x 12'-8"</text>
<text x="587.10" y="293.90" font-size="12" fill="#111" stroke="#111" stroke-width="0.3" textLength="63.50" lengthAdjust="spacingAndGlyphs">CHAMBRE #3</text>
<line x1="586.50" y1="296.50" x2="651.30" y2="296.50" stroke="#111" stroke-width="1.3" />
<text x="582.20" y="308.50" font-size="12" fill="#111" stroke="#111" stroke-width="0.3" textLength="72.30" lengthAdjust="spacingAndGlyphs">12'-6" x 15'-4"</text>
<text x="175.90" y="421.40" font-size="12" fill="#111" stroke="#111" stroke-width="0.3" textLength="40.40" lengthAdjust="spacingAndGlyphs">WALK-IN</text>
<line x1="175.30" y1="423.50" x2="217.00" y2="423.50" stroke="#111" stroke-width="1.3" />
<text x="161.90" y="434.60" font-size="12" fill="#111" stroke="#111" stroke-width="0.3" textLength="67.60" lengthAdjust="spacingAndGlyphs">10'-3" x 3'-8"</text>
<text x="559.30" y="466.70" font-size="12" fill="#111" stroke="#111" stroke-width="0.3" textLength="40.50" lengthAdjust="spacingAndGlyphs">CUISINE</text>
<line x1="558.70" y1="468.20" x2="600.40" y2="468.20" stroke="#111" stroke-width="1.3" />
<text x="542.90" y="480.20" font-size="12" fill="#111" stroke="#111" stroke-width="0.3" textLength="72.80" lengthAdjust="spacingAndGlyphs">10'-0" x 19'-8"</text>
<text x="446.50" y="508.80" font-size="12" fill="#111" stroke="#111" stroke-width="0.3" textLength="50.50" lengthAdjust="spacingAndGlyphs">OUVERT</text>
<text x="428.50" y="525.60" font-size="12" fill="#111" stroke="#111" stroke-width="0.3" textLength="88.00" lengthAdjust="spacingAndGlyphs">SUR 2 ÉTAGES</text>
<text x="411.60" y="595.10" font-size="12" fill="#111" stroke="#111" stroke-width="0.3" textLength="124.40" lengthAdjust="spacingAndGlyphs">SALON/SALLE A MANGER</text>
<line x1="411.00" y1="596.90" x2="536.60" y2="596.90" stroke="#111" stroke-width="1.3" />
<text x="436.90" y="609.10" font-size="12" fill="#111" stroke="#111" stroke-width="0.3" textLength="75.30" lengthAdjust="spacingAndGlyphs">28'-6" x 18'-0"</text>
<text x="345.30" y="724.10" font-size="12" fill="#111" stroke="#111" stroke-width="0.3" textLength="104.10" lengthAdjust="spacingAndGlyphs">BALCON DE TYPE</text>
<line x1="344.00" y1="726.50" x2="451.00" y2="726.50" stroke="#111" stroke-width="1.3" />
<text x="361.90" y="737.90" font-size="12" fill="#111" stroke="#111" stroke-width="0.3" textLength="71.80" lengthAdjust="spacingAndGlyphs">COMPOSITE</text>
<line x1="360.50" y1="741.00" x2="434.70" y2="741.00" stroke="#111" stroke-width="1.3" />
<text x="360.00" y="752.50" font-size="12" fill="#111" stroke="#111" stroke-width="0.3" textLength="75.30" lengthAdjust="spacingAndGlyphs">46'-0" x 10'-0"</text>
<text x="378.50" y="825.30" font-size="12.5" fill="#111" stroke="#111" stroke-width="0.3" textLength="26.30" lengthAdjust="spacingAndGlyphs">52'-0"</text>
<text transform="translate(743.2,479.4) rotate(-90)" font-size="12.5" fill="#111" stroke="#111" stroke-width="0.3" textLength="42" lengthAdjust="spacingAndGlyphs">54'-8 1/2"</text>
<text x="96.40" y="960.20" font-size="12" fill="#111" stroke="#111" stroke-width="0.3" textLength="140.50" lengthAdjust="spacingAndGlyphs">PLAN DU REZ-DE-CHAUSSEE</text>
<line x1="96.00" y1="961.60" x2="237.50" y2="961.60" stroke="#111" stroke-width="1.2" />
<text x="137.20" y="971.90" font-size="7.5" fill="#111" stroke="#111" stroke-width="0.2" textLength="59.20" lengthAdjust="spacingAndGlyphs">SUP.: 1 687 pi.ca.</text>
<text x="101.90" y="982.80" font-size="7.5" fill="#111" stroke="#111" stroke-width="0.2" textLength="131.00" lengthAdjust="spacingAndGlyphs">(A PARTIR DES MURS EXTERIEURS)</text>
<rect x="343.00" y="990.20" width="439.60" height="5.20" fill="#8e8e8e" />
<rect x="758.30" y="972.50" width="8.30" height="43.40" fill="#8e8e8e" />
<path d="M359,944.8 L359,981.3 M359,946.4 Q372,944.6 378,946.6 Q387,950 385.3,958.5 Q383,968.5 361,980.5" stroke="#8e8e8e" stroke-width="3.4" fill="none" stroke-linecap="round" stroke-linejoin="round"/>
<path d="M390.6,945.4 L390.6,980.6 M390.6,945.6 L412.3,945.6 M390.6,972.3 L412.3,972.3 M390.6,980.2 L423.6,980.2" stroke="#8e8e8e" stroke-width="3.4" fill="none" stroke-linecap="round" stroke-linejoin="round"/>
<path d="M453.5,948.4 Q447,944.6 440,945.4 Q429,947 429.8,954 Q431,958.6 441,962.6 Q455,968 454.2,974 Q453,982.4 441,982.2 Q433,982 427,978.4" stroke="#8e8e8e" stroke-width="3.4" fill="none" stroke-linecap="round" stroke-linejoin="round"/>
<path d="M485.1,948.6 Q479,945 472,945.8 Q461.5,947.4 462.2,954 Q463.4,958.6 474,962.8 Q487.6,968 486.8,974 Q485.6,982.4 474,982.2 Q466,982 459.8,978.6" stroke="#8e8e8e" stroke-width="3.4" fill="none" stroke-linecap="round" stroke-linejoin="round"/>
<path d="M495.8,945 L495.8,981.5" stroke="#8e8e8e" stroke-width="3.4" fill="none" stroke-linecap="round" stroke-linejoin="round"/>
<path d="M502.8,981.5 L502.8,945.2 L526.6,981.3 L526.6,935.6" stroke="#8e8e8e" stroke-width="3.4" fill="none" stroke-linecap="round" stroke-linejoin="round"/>
<path d="M534.8,981.5 L550.6,944.6 L564.8,981.5 M537.6,975.2 L567.2,975.2" stroke="#8e8e8e" stroke-width="3.4" fill="none" stroke-linecap="round" stroke-linejoin="round"/>
<path d="M597.1,946 L597.1,980.8 M597.1,947.4 Q612,944.2 621.5,945.2 Q630.4,947 630,953.4 Q628.6,961 599,968.3" stroke="#8e8e8e" stroke-width="3.4" fill="none" stroke-linecap="round" stroke-linejoin="round"/>
<path d="M633.7,946 L633.7,978.2 L666.2,978.2" stroke="#8e8e8e" stroke-width="3.4" fill="none" stroke-linecap="round" stroke-linejoin="round"/>
<path d="M667.8,980.2 L681.8,945 L701.6,981 M672,975.4 L703.6,975.4" stroke="#8e8e8e" stroke-width="3.4" fill="none" stroke-linecap="round" stroke-linejoin="round"/>
<path d="M703.6,981 L703.6,946.4 L725.4,981 L725.4,935.6" stroke="#8e8e8e" stroke-width="3.4" fill="none" stroke-linecap="round" stroke-linejoin="round"/>
</svg>
</body></html>
